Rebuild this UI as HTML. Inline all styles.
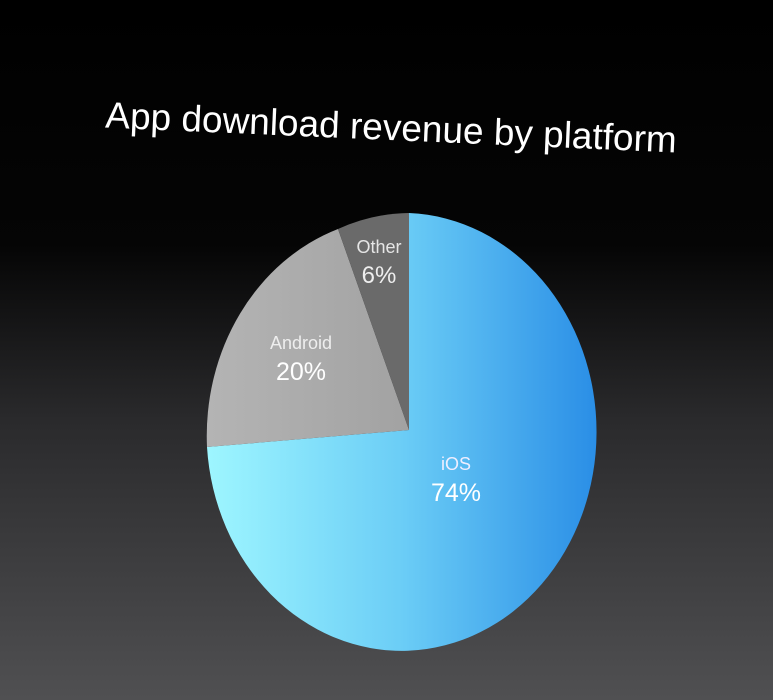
<!DOCTYPE html>
<html><head><style>
html,body{margin:0;padding:0}
body{width:773px;height:700px;overflow:hidden;background:linear-gradient(#000 0%,#050505 35%,#2a2a2c 60%,#505052 100%)}
</style></head><body>
<svg width="773" height="700" viewBox="0 0 773 700" xmlns="http://www.w3.org/2000/svg" style="position:absolute;left:0;top:0">
<defs>
<linearGradient id="ios" x1="207" y1="0" x2="597" y2="0" gradientUnits="userSpaceOnUse">
<stop offset="0" stop-color="#9ef6ff"/><stop offset="0.5" stop-color="#6bcdf6"/><stop offset="1" stop-color="#2a8ee6"/>
</linearGradient>
<linearGradient id="and" x1="207" y1="0" x2="409" y2="0" gradientUnits="userSpaceOnUse">
<stop offset="0" stop-color="#b4b4b4"/><stop offset="1" stop-color="#a2a2a2"/>
</linearGradient>
</defs>
<text x="391" y="140" fill="#fff" font-family="Liberation Sans, sans-serif" font-size="37" text-anchor="middle" transform="rotate(2.5 391 130)">App download revenue by platform</text>
<path d="M409,430 L409,213 A195,219 0 1 1 207,447 Z" fill="url(#ios)"/>
<path d="M409,430 L207,447 A195,219 0 0 1 338,229 Z" fill="url(#and)"/>
<path d="M409,430 L338,229 A195,219 0 0 1 409,213 Z" fill="#6a6a6a"/>
<g font-family="Liberation Sans, sans-serif" fill="#fff" text-anchor="middle">
<text x="379" y="253" font-size="18" fill="#e6e6e6">Other</text>
<text x="379" y="283" font-size="24" fill="#eee">6%</text>
<text x="301" y="349" font-size="18" fill="#eee">Android</text>
<text x="301" y="380" font-size="25">20%</text>
<text x="456" y="470" font-size="18" fill="#eef">iOS</text>
<text x="456" y="501" font-size="25">74%</text>
</g>
</svg>
</body></html>
